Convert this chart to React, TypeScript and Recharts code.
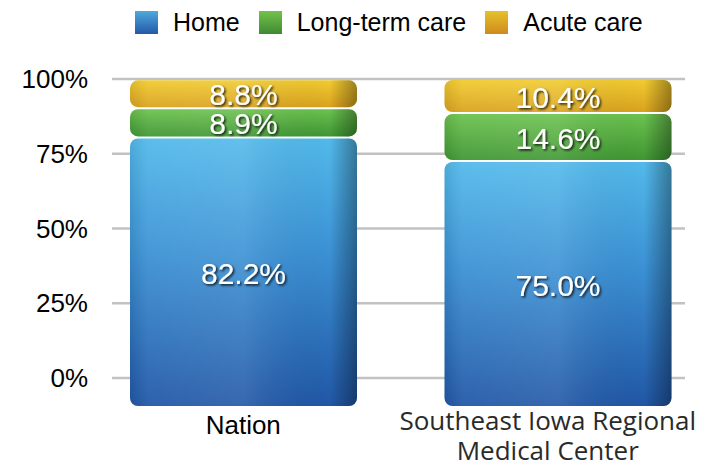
import {
  BarChart,
  Bar,
  XAxis,
  YAxis,
  CartesianGrid,
  Legend,
  LabelList,
} from "recharts";

// values (percent of discharges)
const categories = ["Nation", "Southeast Iowa Regional Medical Center"];
const homeValues = [82.2, 75.0];
const longTermValues = [8.9, 14.6];
const acuteValues = [8.8, 10.4];
const seriesNames = ["Home", "Long-term care", "Acute care"];
const yTicks = [0, 25, 50, 75, 100];

// the gridlines sit a bit above the bar bottoms (perspective in the original)
const gridFloor = -9.7;

const data = categories.map((name, i) => ({
  name,
  home: homeValues[i],
  longTerm: longTermValues[i],
  acute: acuteValues[i],
}));

const swatches = [
  ["#4fa9dc", "#2358a8"],
  ["#74c24a", "#3e8a34"],
  ["#e6c229", "#cf8a1e"],
];

function makeShape(gradId: string) {
  return (props: any) => {
    const { x, y, width, height } = props;
    if (!height || height <= 0) return <g />;
    const gy = y + 1;
    const gh = Math.max(height - 2, 0);
    return (
      <g>
        <rect x={x} y={gy} width={width} height={gh} rx={8} ry={8} fill={`url(#${gradId})`} />
        <rect x={x} y={gy} width={width} height={gh} rx={8} ry={8} fill="url(#edgeShade)" />
      </g>
    );
  };
}

function ValueLabel(props: any) {
  const { x, y, width, height, value } = props;
  return (
    <text
      x={x + width / 2}
      y={y + height / 2 + 1}
      textAnchor="middle"
      dominantBaseline="central"
      fill="#ffffff"
      fontSize={30}
      fontFamily="Liberation Sans, Arial, sans-serif"
      filter="url(#txtShadow)"
    >
      {Number(value).toFixed(1) + "%"}
    </text>
  );
}

function CategoryTick(props: any) {
  const { x, y, payload } = props;
  if (payload.value === "Nation") {
    return (
      <text
        x={x}
        y={y}
        dy={19}
        textAnchor="middle"
        fill="#000"
        fontSize={26}
        fontFamily="Liberation Sans, Arial, sans-serif"
      >
        Nation
      </text>
    );
  }
  return (
    <text
      x={x}
      y={y}
      textAnchor="middle"
      fill="#2a2a2a"
      fontSize={26}
      fontFamily="Open Sans, sans-serif"
    >
      <tspan x={x - 10} dy={15}>
        Southeast Iowa Regional
      </tspan>
      <tspan x={x - 10} dy={30}>
        Medical Center
      </tspan>
    </text>
  );
}

function LegendBox() {
  return (
    <div style={{ width: 717, height: 79, position: "relative" }}>
      <div
        style={{
          display: "flex",
          alignItems: "center",
          height: 44,
          paddingLeft: 135,
          fontFamily: "Liberation Sans, Arial, sans-serif",
          fontSize: 25,
          color: "#000",
        }}
      >
        {seriesNames.map((n, i) => (
          <div key={n} style={{ display: "flex", alignItems: "center", marginRight: 19 }}>
            <div
              style={{
                width: 23,
                height: 23,
                background: `linear-gradient(${swatches[i][0]}, ${swatches[i][1]})`,
                marginRight: 15,
              }}
            />
            <span>{n}</span>
          </div>
        ))}
      </div>
    </div>
  );
}

export default function App() {
  return (
    <div style={{ position: "absolute", left: 0, top: 0, background: "#fff" }}>
      <BarChart
        width={717}
        height={473}
        data={data}
        margin={{ top: 0, right: 32, bottom: 0, left: 0 }}
      >
        <defs>
          <linearGradient id="gHome" x1="0" y1="0" x2="0" y2="1">
            <stop offset="0%" stopColor="#52b9ea" />
            <stop offset="45%" stopColor="#3a8fd3" />
            <stop offset="100%" stopColor="#2157a6" />
          </linearGradient>
          <linearGradient id="gLong" x1="0" y1="0" x2="0" y2="1">
            <stop offset="0%" stopColor="#6cc24f" />
            <stop offset="100%" stopColor="#3f9633" />
          </linearGradient>
          <linearGradient id="gAcute" x1="0" y1="0" x2="0" y2="1">
            <stop offset="0%" stopColor="#f1cb30" />
            <stop offset="100%" stopColor="#d9a21e" />
          </linearGradient>
          <linearGradient id="edgeShade" x1="0" y1="0" x2="1" y2="0">
            <stop offset="0%" stopColor="#000" stopOpacity={0.08} />
            <stop offset="8%" stopColor="#fff" stopOpacity={0.06} />
            <stop offset="50%" stopColor="#fff" stopOpacity={0.1} />
            <stop offset="88%" stopColor="#000" stopOpacity={0} />
            <stop offset="100%" stopColor="#000" stopOpacity={0.35} />
          </linearGradient>
          <filter id="txtShadow" x="-20%" y="-30%" width="140%" height="160%">
            <feDropShadow dx="1.5" dy="1.5" stdDeviation="1" floodColor="#000" floodOpacity="0.85" />
          </filter>
        </defs>
        <CartesianGrid
          yAxisId="grid"
          vertical={false}
          syncWithTicks
          stroke="#c2c2c2"
          strokeWidth={2.5}
        />
        <XAxis
          dataKey="name"
          axisLine={false}
          tickLine={false}
          height={66}
          padding={{ left: -26, right: -30 }}
          interval={0}
          tick={<CategoryTick />}
        />
        <YAxis
          yAxisId="grid"
          type="number"
          domain={[gridFloor, 100]}
          ticks={yTicks}
          allowDataOverflow
          axisLine={false}
          tickLine={false}
          width={112}
          tickMargin={18}
          tickFormatter={(v) => `${v}%`}
          tick={{ fill: "#000", fontSize: 26, fontFamily: "Liberation Sans, Arial, sans-serif" }}
        />
        <YAxis
          yAxisId="bars"
          orientation="right"
          width={0}
          type="number"
          domain={[0, 100]}
          hide
          allowDataOverflow
        />
        <Legend verticalAlign="top" wrapperStyle={{ left: 0, top: 0, width: 717 }} content={<LegendBox />} />
        <Bar
          yAxisId="bars"
          dataKey="home"
          name={seriesNames[0]}
          stackId="s"
          barSize={227}
          fill="#3a8fd3"
          shape={makeShape("gHome")}
          isAnimationActive={false}
        >
          <LabelList dataKey="home" content={<ValueLabel />} />
        </Bar>
        <Bar
          yAxisId="bars"
          dataKey="longTerm"
          name={seriesNames[1]}
          stackId="s"
          barSize={227}
          fill="#5bb043"
          shape={makeShape("gLong")}
          isAnimationActive={false}
        >
          <LabelList dataKey="longTerm" content={<ValueLabel />} />
        </Bar>
        <Bar
          yAxisId="bars"
          dataKey="acute"
          name={seriesNames[2]}
          stackId="s"
          barSize={227}
          fill="#e6b828"
          shape={makeShape("gAcute")}
          isAnimationActive={false}
        >
          <LabelList dataKey="acute" content={<ValueLabel />} />
        </Bar>
      </BarChart>
    </div>
  );
}
